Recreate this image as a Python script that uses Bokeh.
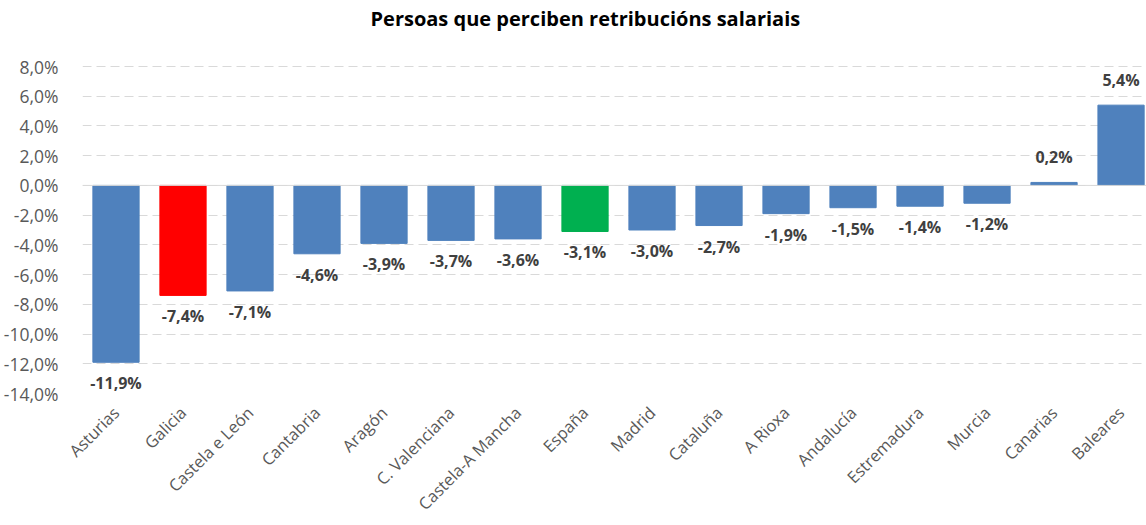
from bokeh.plotting import figure
from bokeh.models import ColumnDataSource, Range1d, FixedTicker, Span, Label
from bokeh.core.properties import value
from bokeh.embed import file_html
from bokeh.resources import INLINE
import math

# ---- data ----
title_text = "Persoas que perciben retribucións salariais"
regions = ["Asturias", "Galicia", "Castela e León", "Cantabria", "Aragón",
           "C. Valenciana", "Castela-A Mancha", "España", "Madrid", "Cataluña",
           "A Rioxa", "Andalucía", "Estremadura", "Murcia", "Canarias", "Baleares"]
change_pct = [-11.9, -7.4, -7.1, -4.6, -3.9, -3.7, -3.6, -3.1, -3.0, -2.7,
              -1.9, -1.5, -1.4, -1.2, 0.2, 5.4]
y_tick_values = [8, 6, 4, 2, 0, -2, -4, -6, -8, -10, -12, -14]
y_tick_labels = ["8,0%", "6,0%", "4,0%", "2,0%", "0,0%", "-2,0%", "-4,0%",
                 "-6,0%", "-8,0%", "-10,0%", "-12,0%", "-14,0%"]

# ---- styles ----
BLUE = "#4F81BD"
highlight = {"Galicia": "#FF0000", "España": "#00B050"}
FONT = "Open Sans"

xs = list(range(len(regions)))
colors = [highlight.get(r, BLUE) for r in regions]
labels = [f"{v:.1f}".replace(".", ",") + "%" for v in change_pct]

src = ColumnDataSource(dict(x=xs, top=change_pct, color=colors, label=labels))
neg = ColumnDataSource(dict(x=[x for x, v in zip(xs, change_pct) if v < 0],
                            y=[v for v in change_pct if v < 0],
                            label=[l for l, v in zip(labels, change_pct) if v < 0]))
pos = ColumnDataSource(dict(x=[x for x, v in zip(xs, change_pct) if v >= 0],
                            y=[v for v in change_pct if v >= 0],
                            label=[l for l, v in zip(labels, change_pct) if v >= 0]))

# frame spans the full top of the canvas; the room above 8% holds the title
px_per_unit = (393 - 66) / 22.0
y_top = 8 + 66 / px_per_unit

p = figure(width=1146, height=525, output_backend="svg", toolbar_location=None,
           x_range=Range1d(-0.5, 15.38), y_range=Range1d(-14, y_top),
           min_border_left=82, min_border_right=0, min_border_top=0,
           min_border_bottom=132)

title = Label(x=288, y=375, x_units="screen", y_units="screen", text=title_text,
              text_font=FONT, text_font_size="20px", text_font_style="bold",
              text_color="#000000", text_align="left", text_baseline="middle")
p.add_layout(title)

p.outline_line_color = None
p.background_fill_color = "white"
p.border_fill_color = "white"

p.xgrid.grid_line_color = None
p.ygrid.ticker = FixedTicker(ticks=y_tick_values)
p.ygrid.grid_line_color = "#d9d9d9"
p.ygrid.grid_line_dash = "9 5"
p.ygrid.grid_line_width = 1

p.add_layout(Span(location=0, dimension="width", line_color="#d9d9d9", line_width=1))

p.vbar(x="x", top="top", bottom=0, width=0.69, color="color", source=src)

text_kw = dict(text="label", text_font=value(FONT), text_font_size="16px",
               text_font_style="bold", text_color="#404040", text_align="center")
p.text(x="x", y="y", source=neg, text_baseline="top", y_offset=10, **text_kw)
p.text(x="x", y="y", source=pos, text_baseline="bottom", y_offset=-14, **text_kw)

# y axis
p.yaxis.ticker = FixedTicker(ticks=y_tick_values)
p.yaxis.major_label_overrides = {v: l for v, l in zip(y_tick_values, y_tick_labels)}
p.yaxis.axis_line_color = None
p.yaxis.major_tick_line_color = None
p.yaxis.minor_tick_line_color = None
p.yaxis.major_label_text_font = FONT
p.yaxis.major_label_text_font_size = "17.5px"
p.yaxis.major_label_text_color = "#595959"
p.yaxis.major_label_standoff = 18

# x axis
p.xaxis.ticker = FixedTicker(ticks=xs)
p.xaxis.major_label_overrides = {x: r for x, r in zip(xs, regions)}
p.xaxis.axis_line_color = None
p.xaxis.major_tick_line_color = None
p.xaxis.minor_tick_line_color = None
p.xaxis.major_label_orientation = math.pi / 4
p.xaxis.major_label_text_font = FONT
p.xaxis.major_label_text_font_size = "16.5px"
p.xaxis.major_label_text_color = "#595959"
p.xaxis.major_label_standoff = 10

open("out.html", "w").write(file_html(p, INLINE))
